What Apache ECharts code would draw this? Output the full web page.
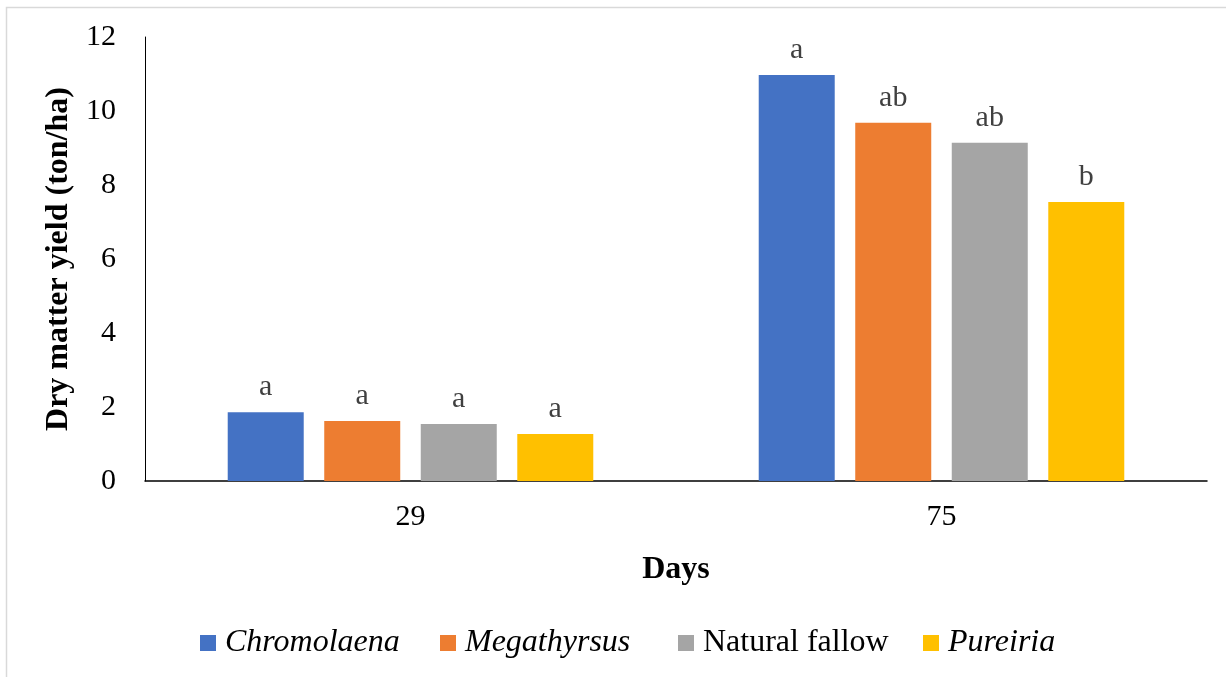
<!DOCTYPE html>
<html>
<head>
<meta charset="utf-8">
<script src="https://cdn.jsdelivr.net/npm/echarts@6/dist/echarts.min.js"></script>
<style>
html,body{margin:0;padding:0;background:#fff;}
#chart{width:1226px;height:677px;}
</style>
</head>
<body>
<div id="chart"></div>
<script>
const categories = ['29', '75'];
const seriesNames = ['Chromolaena', 'Megathyrsus', 'Natural fallow', 'Pureiria'];
const italicNames = ['Chromolaena', 'Megathyrsus', 'Pureiria'];
const colors = ['#4472C4', '#ED7D31', '#A5A5A5', '#FFC000'];
const chromolaena = [1.86, 10.97];
const megathyrsus = [1.62, 9.68];
const naturalFallow = [1.54, 9.14];
const pureiria = [1.27, 7.54];
const chromolaenaLetters = ['a', 'a'];
const megathyrsusLetters = ['a', 'ab'];
const naturalFallowLetters = ['a', 'ab'];
const pureiriaLetters = ['a', 'b'];
const yTicks = { min: 0, max: 12, interval: 2 };

const values = [chromolaena, megathyrsus, naturalFallow, pureiria];
const letters = [chromolaenaLetters, megathyrsusLetters, naturalFallowLetters, pureiriaLetters];
const FONT = '"Liberation Serif", "Times New Roman", serif';
const legendLefts = [195, 435, 673, 918];

const chart = echarts.init(document.getElementById('chart'), null, { renderer: 'canvas' });
chart.setOption({
  animation: false,
  backgroundColor: '#fff',
  textStyle: { fontFamily: FONT },
  graphic: [{
    type: 'rect', silent: true,
    shape: { x: 6.5, y: 7.5, width: 1400, height: 900 },
    style: { fill: 'none', stroke: '#d9d9d9', lineWidth: 1.5 }
  }],
  grid: { left: 145, right: 19, top: 37, bottom: 196, containLabel: false },
  legend: seriesNames.map((name, i) => ({
    left: legendLefts[i], top: 622,
    itemWidth: 16, itemHeight: 16,
    icon: 'rect',
    data: [name],
    formatter: n => italicNames.includes(n) ? '{i|' + n + '}' : '{n|' + n + '}',
    textStyle: {
      fontFamily: FONT, fontSize: 32, color: '#000', padding: [0, 0, 0, 4],
      rich: {
        i: { fontFamily: FONT, fontSize: 32, fontStyle: 'italic', color: '#000' },
        n: { fontFamily: FONT, fontSize: 32, color: '#000' }
      }
    }
  })),
  xAxis: {
    type: 'category',
    data: categories,
    name: 'Days',
    nameLocation: 'middle',
    nameGap: 73,
    nameTextStyle: { fontFamily: FONT, fontSize: 32, fontWeight: 'bold', color: '#000' },
    axisLine: { lineStyle: { color: '#000', width: 1.5 } },
    axisTick: { show: false },
    axisLabel: { fontFamily: FONT, fontSize: 30, color: '#000', margin: 21 }
  },
  yAxis: {
    type: 'value',
    min: yTicks.min, max: yTicks.max, interval: yTicks.interval,
    name: 'Dry matter yield (ton/ha)',
    nameLocation: 'middle',
    nameGap: 66,
    nameTextStyle: { fontFamily: FONT, fontSize: 32, fontWeight: 'bold', color: '#000' },
    axisLine: { show: true, lineStyle: { color: '#000', width: 1 } },
    axisTick: { show: false },
    splitLine: { show: false },
    axisLabel: { fontFamily: FONT, fontSize: 30, color: '#000', margin: 29 }
  },
  series: seriesNames.map((name, i) => ({
    name: name,
    type: 'bar',
    data: values[i].map((v, j) => ({ value: v, label: { formatter: letters[i][j] } })),
    itemStyle: { color: colors[i] },
    barWidth: 76,
    barGap: '27%',
    label: {
      show: true, position: 'top', distance: 10,
      fontFamily: FONT, fontSize: 30, color: '#404040'
    }
  }))
});
</script>
</body>
</html>
